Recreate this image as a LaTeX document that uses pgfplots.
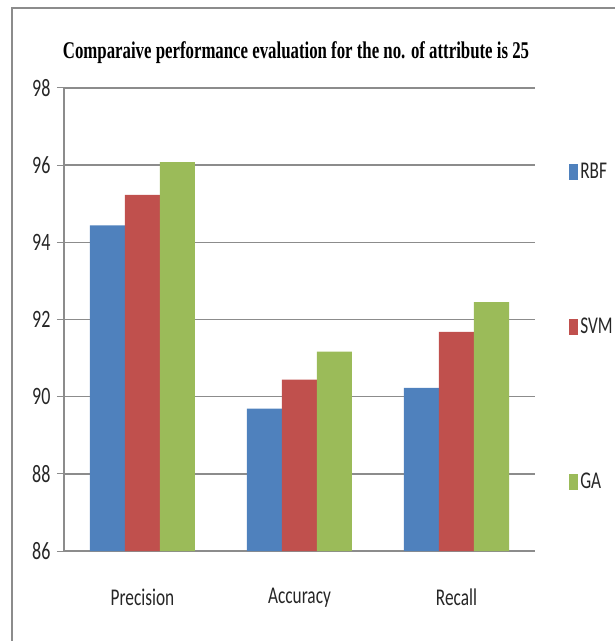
\documentclass[border=0pt]{standalone}
\usepackage{pgfplots}
\pgfplotsset{compat=1.18}
\usepackage{fontspec}
\setmainfont{Carlito}[FakeStretch=0.72]
\newfontfamily\titlefont{Liberation Serif}[FakeStretch=0.7]
\definecolor{rbf}{HTML}{4F81BD}
\definecolor{svm}{HTML}{C0504D}
\definecolor{ga}{HTML}{9BBB59}
\definecolor{gridc}{HTML}{8C8C8C}
\begin{document}
\begin{tikzpicture}[x=1pt,y=1pt]
\useasboundingbox (0,0) rectangle (615,641);
\draw[gridc, line width=1.5pt] (12,0) -- (12,633) -- (615,633);
\node[font=\titlefont\bfseries\fontsize{24}{28}\selectfont] at (296,588) {Comparaive performance evaluation for the no. of attribute is 25};
\begin{axis}[
  at={(64pt,90pt)}, anchor=south west,
  width=471pt, height=463pt, scale only axis,
  ymin=86, ymax=98, ytick={86,88,...,98},
  xmin=-0.5, xmax=2.5,
  xtick={0,1,2}, xticklabels={Precision,Accuracy,Recall},
  major x tick style={draw=none},
  extra x ticks={-0.5,0.5,1.5,2.5}, extra x tick labels={},
  extra x tick style={major tick length=8pt, tick align=outside, tick style={gridc, line width=1pt}},
  ybar=0pt, bar width=35pt,
  axis x line*=bottom, axis y line*=left,
  axis line style={gridc, line width=1.2pt, -},
  y tick style={gridc, line width=1pt},
  tick align=outside, major tick length=7pt,
  ymajorgrids, grid style={gridc, line width=1.5pt},
  /pgf/number format/assume math mode=true,
  tick label style={font=\fontsize{25}{29}\selectfont, text=black!85},
  xticklabel style={yshift=-27pt, font=\fontsize{24}{28}\selectfont},
  yticklabel style={xshift=-3pt},
  legend style={at={(1.066,0.484)}, anchor=west, draw=none, fill=none,
    font=\fontsize{24}{28}\selectfont, row sep=134pt, text=black!85},
  legend cell align=left,
]
\addplot[fill=rbf, draw=none, legend image code/.code={\fill[rbf] (0pt,-8pt) rectangle (9pt,8pt);}] coordinates {(0,94.44) (1,89.69) (2,90.23)};
\addplot[fill=svm, draw=none, legend image code/.code={\fill[svm] (0pt,-8pt) rectangle (9pt,8pt);}] coordinates {(0,95.23) (1,90.44) (2,91.68)};
\addplot[fill=ga, draw=none, legend image code/.code={\fill[ga] (0pt,-8pt) rectangle (9pt,8pt);}] coordinates {(0,96.08) (1,91.17) (2,92.45)};
\legend{RBF,SVM,GA}
\end{axis}
\end{tikzpicture}
\end{document}
